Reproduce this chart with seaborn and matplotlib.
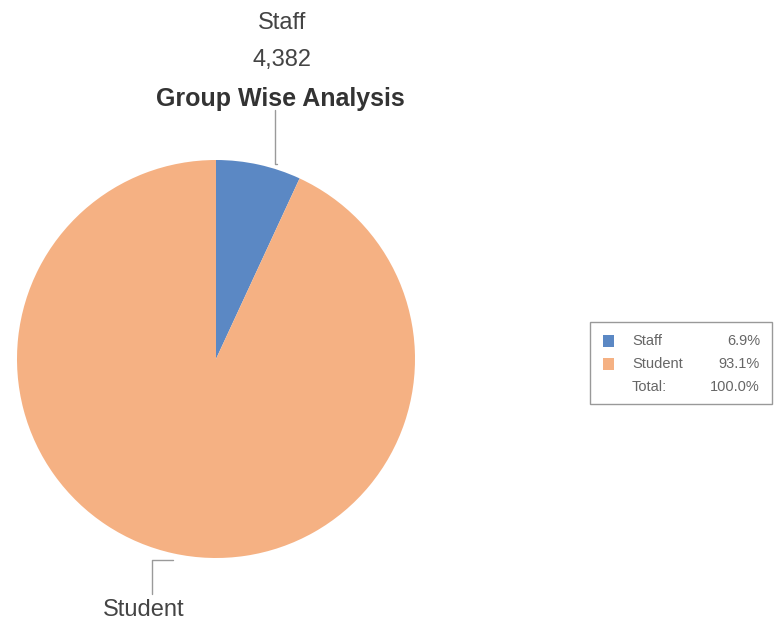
import numpy as np
import seaborn as sns
import matplotlib
matplotlib.use("Agg")
import matplotlib.pyplot as plt
from matplotlib.patches import Rectangle

# data
groups = ["Staff", "Student"]
counts = [4382, 59125]
colors = ["#5b88c4", "#f5b183"]

sns.set_theme(style="white")
plt.rcParams['font.family'] = ['Liberation Sans', 'DejaVu Sans']

W, H = 776, 630
fig = plt.figure(figsize=(W / 100, H / 100), dpi=100)
ax = fig.add_axes([0, 0, 1, 1])

def py(y):
    # pixel row (from top) to axis y
    return H - y

total = sum(counts)
pct = [c / total * 100 for c in counts]

ax.pie(counts, colors=colors, startangle=90, counterclock=False,
       center=(216, py(359)), radius=199, frame=True,
       wedgeprops=dict(linewidth=0))
ax.set_xlim(0, W)
ax.set_ylim(0, H)
ax.set_aspect("equal")
ax.axis("off")

# leader lines
lc = "#9a9a9a"
ax.plot([277, 275, 275], [py(164), py(164), py(110)], color=lc, lw=1)
ax.plot([173, 152, 152], [py(560), py(560), py(594)], color=lc, lw=1)

# labels
txt = "#444444"
ax.text(282, py(23), groups[0], ha="center", va="center", fontsize=17, color=txt)
ax.text(282, py(60), f"{counts[0]:,}", ha="center", va="center", fontsize=17, color=txt)
ax.text(280, py(99), "Group Wise Analysis", ha="center", va="center",
        fontsize=18, fontweight="bold", color="#333333")
ax.text(144, py(610), groups[1], ha="center", va="center", fontsize=17, color=txt)

# legend box
ax.add_patch(Rectangle((590, py(404)), 182, 82, fill=False, ec="#999999", lw=1))
rows = [341, 364, 387]
lg = "#666666"
for i, g in enumerate(groups):
    ax.add_patch(Rectangle((603, py(rows[i]) - 6), 11, 12, color=colors[i], lw=0))
    ax.text(632, py(rows[i]), g, ha="left", va="center", fontsize=10.5, color=lg)
    ax.text(760, py(rows[i]), f"{pct[i]:.1f}%", ha="right", va="center", fontsize=10.5, color=lg)
ax.text(632, py(rows[2]), "Total:", ha="left", va="center", fontsize=10.5, color=lg)
ax.text(760, py(rows[2]), f"{sum(pct):.1f}%", ha="right", va="center", fontsize=10.5, color=lg)

fig.savefig("out.png", dpi=100)
